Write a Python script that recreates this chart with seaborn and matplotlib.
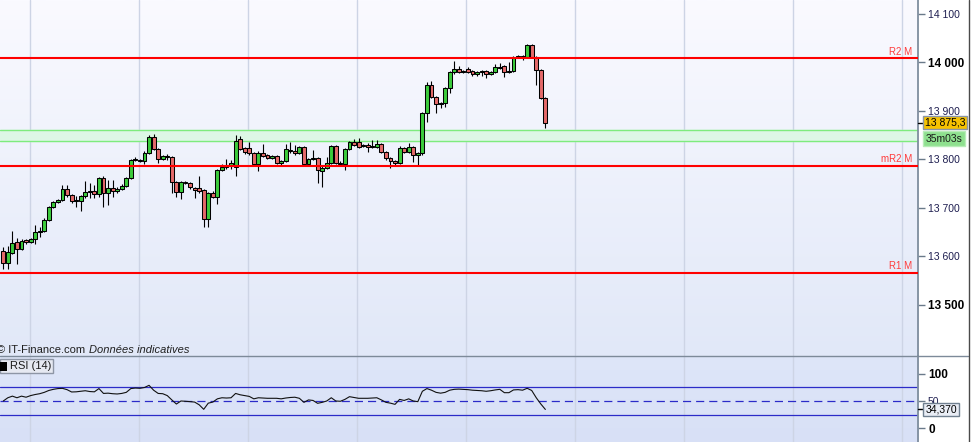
import matplotlib
matplotlib.use("Agg")
import matplotlib.pyplot as plt
import matplotlib.colors as mcolors
import matplotlib.transforms as mtransforms
from matplotlib.lines import Line2D
from matplotlib.patches import Rectangle
import numpy as np
import pandas as pd
import seaborn as sns

# ── données (bougies, RSI, niveaux) ────────────────────────────────────────
OPEN = [
    13610, 13586, 13606, 13629, 13614, 13633, 13629, 13635, 13649, 13652,
    13674, 13701, 13711, 13715, 13738, 13726, 13713, 13713, 13724, 13732,
    13734, 13728, 13761, 13730, 13740, 13734, 13738, 13744, 13761, 13798,
    13798, 13796, 13812, 13845, 13821, 13800, 13806, 13804, 13753, 13732,
    13753, 13751, 13740, 13740, 13736, 13676, 13730, 13722, 13777, 13784,
    13786, 13784, 13841, 13823, 13823, 13812, 13790, 13812, 13808, 13802,
    13806, 13792, 13796, 13819, 13816, 13812, 13825, 13790, 13800, 13802,
    13775, 13781, 13792, 13827, 13792, 13790, 13821, 13835, 13835, 13827,
    13829, 13825, 13825, 13831, 13814, 13802, 13796, 13792, 13823, 13814,
    13825, 13808, 13812, 13895, 13953, 13928, 13913, 13915, 13946, 13979,
    13986, 13979, 13986, 13981, 13975, 13979, 13981, 13975, 13979, 13990,
    13992, 13979, 13981, 14010, 14012, 14010, 14035, 14010, 13984, 13926,
]
HIGH = [
    13619, 13620, 13652, 13637, 13635, 13635, 13637, 13664, 13660, 13678,
    13703, 13713, 13718, 13746, 13746, 13728, 13724, 13726, 13755, 13750,
    13746, 13763, 13765, 13757, 13757, 13742, 13748, 13763, 13800, 13804,
    13800, 13816, 13850, 13852, 13823, 13808, 13810, 13806, 13755, 13755,
    13755, 13753, 13742, 13765, 13738, 13732, 13734, 13779, 13790, 13800,
    13798, 13850, 13848, 13825, 13835, 13814, 13816, 13831, 13810, 13808,
    13808, 13798, 13831, 13835, 13829, 13827, 13827, 13802, 13819, 13804,
    13786, 13804, 13829, 13829, 13796, 13823, 13837, 13841, 13843, 13831,
    13833, 13839, 13839, 13833, 13816, 13804, 13798, 13827, 13825, 13833,
    13827, 13814, 13898, 13959, 13961, 13930, 13917, 13948, 13981, 14002,
    13992, 13984, 13990, 13984, 13981, 13984, 13984, 13981, 13996, 13998,
    13994, 14000, 14012, 14014, 14014, 14037, 14037, 14012, 13986, 13928,
]
LOW = [
    13573, 13573, 13604, 13583, 13612, 13625, 13627, 13625, 13639, 13649,
    13672, 13699, 13709, 13713, 13722, 13709, 13701, 13693, 13720, 13720,
    13720, 13722, 13701, 13705, 13722, 13730, 13736, 13742, 13759, 13796,
    13794, 13790, 13810, 13819, 13792, 13798, 13798, 13730, 13722, 13718,
    13748, 13738, 13720, 13730, 13660, 13660, 13720, 13707, 13775, 13780,
    13779, 13765, 13819, 13810, 13808, 13788, 13775, 13804, 13800, 13800,
    13790, 13788, 13794, 13812, 13808, 13810, 13786, 13788, 13798, 13750,
    13742, 13779, 13790, 13790, 13788, 13777, 13819, 13827, 13823, 13825,
    13814, 13823, 13823, 13812, 13798, 13781, 13788, 13790, 13812, 13812,
    13794, 13788, 13808, 13876, 13926, 13895, 13905, 13907, 13936, 13975,
    13977, 13977, 13977, 13971, 13971, 13971, 13967, 13973, 13977, 13986,
    13969, 13977, 13979, 14008, 14004, 14008, 14008, 13953, 13924, 13864,
]
CLOSE = [
    13586, 13608, 13627, 13614, 13631, 13629, 13635, 13649, 13652, 13674,
    13701, 13711, 13715, 13738, 13726, 13713, 13715, 13724, 13732, 13734,
    13728, 13761, 13730, 13740, 13734, 13738, 13744, 13761, 13798, 13800,
    13796, 13812, 13845, 13821, 13800, 13806, 13804, 13753, 13732, 13753,
    13751, 13742, 13736, 13734, 13676, 13730, 13722, 13777, 13784, 13788,
    13792, 13837, 13821, 13814, 13812, 13790, 13812, 13806, 13802, 13806,
    13792, 13796, 13821, 13816, 13812, 13825, 13790, 13800, 13802, 13777,
    13781, 13792, 13827, 13792, 13790, 13821, 13835, 13829, 13825, 13829,
    13825, 13827, 13831, 13814, 13802, 13796, 13792, 13823, 13814, 13825,
    13808, 13812, 13895, 13953, 13928, 13913, 13915, 13946, 13979, 13986,
    13979, 13981, 13979, 13975, 13979, 13981, 13975, 13979, 13990, 13988,
    13979, 13981, 14010, 14012, 14010, 14035, 14010, 13984, 13926, 13875.3,
]
RSI = [
    50, 56, 59, 56, 59, 57, 60, 62, 63.5, 66,
    69.5, 71.6, 73, 73.4, 71, 66.7, 67, 68, 69, 67.5,
    67, 73, 64, 64.5, 63.5, 63, 64, 66, 73, 74,
    73.5, 75, 79, 70, 64, 63.5, 60, 52, 44.4, 50,
    49.5, 48.8, 48, 43, 34.6, 46, 48, 54, 56, 55.5,
    56, 64, 61.5, 60, 58.5, 54, 56, 55.5, 55, 55,
    55, 54, 55.5, 56.5, 57, 55, 47.5, 52, 51, 45.7,
    47.5, 50, 56, 50, 49.5, 53, 58, 56.5, 55, 55,
    55, 55.5, 56, 52, 47.5, 46, 43.8, 53, 51, 54,
    50, 48.8, 68, 73, 70, 66, 64.5, 66, 70, 71.6,
    72, 71.5, 71, 70, 69.5, 69, 68, 69, 70.5, 71.6,
    65.4, 65.4, 70.5, 71, 70, 73.5, 69.5, 56, 44.5, 34.37,
]

PIVOT_NAMES = ["R2 M", "mR2 M", "R1 M"]
PIVOT_LEVELS = [14008, 13786, 13566]
BAND = [13837, 13860]
PRICE_TICKS = [13500, 13600, 13700, 13800, 13900, 14000, 14100]
PRICE_LABELS = ["13 500", "13 600", "13 700", "13 800", "13 900", "14 000", "14 100"]
PRICE_BOLD = [True, False, False, False, False, True, False]
RSI_TICKS = [0, 50, 100]
RSI_BOLD = [True, False, True]
RSI_LEVELS = [25, 50, 75]
TIMER = "35m03s"

# ── mise en page (pixels de l'image 972 x 442) ─────────────────────────────
W, H = 972, 442
AXIS_X = 918
X_LIM = (-0.72, 200.8)
GRID_X = [5.9, 29.8, 53.7, 77.7, 101.6, 125.5, 149.5, 173.4, 197.3]
GREEN = "#3CCB3C"
RED = "#E46A6A"

sns.set_style("white")
plt.rcParams["font.family"] = ["Liberation Sans", "DejaVu Sans"]


def fx(px):
    return px / W


def fy(py):
    return 1 - py / H


def gradient(ax, top, bottom):
    c0 = np.array(mcolors.to_rgb(top))
    c1 = np.array(mcolors.to_rgb(bottom))
    t = np.linspace(0, 1, 256)[:, None]
    img = (c0 * (1 - t) + c1 * t)[:, None, :]
    ax.imshow(img, extent=(0, 1, 0, 1), transform=ax.transAxes,
              aspect="auto", zorder=0, interpolation="bilinear")


df = pd.DataFrame({"open": OPEN, "high": HIGH, "low": LOW,
                   "close": CLOSE, "rsi": RSI})
df["t"] = np.arange(len(df))
up = df["close"] >= df["open"]

fig = plt.figure(figsize=(W / 100, H / 100), dpi=100, facecolor="white")
ax = fig.add_axes([0, fy(356), fx(AXIS_X), 356 / H])
ax_r = fig.add_axes([0, 0, fx(AXIS_X), 86 / H])

gradient(ax, "#FAFAFF", "#E1E8F8")
gradient(ax_r, "#DEE6F9", "#D8E0F6")

for a in (ax, ax_r):
    for s in ("top", "left", "bottom"):
        a.spines[s].set_visible(False)
    a.spines["right"].set_color("#7F8E9E")
    a.spines["right"].set_linewidth(1.3)
    a.set_xticks(GRID_X)
    a.tick_params(axis="x", length=0, labelbottom=False)
    a.grid(False)
    a.grid(True, axis="x", color="#CDD4E5", lw=1)
    a.yaxis.tick_right()
    a.tick_params(axis="y", direction="out", length=5, width=1,
                  color="#6A7A8A", pad=2.2, labelcolor="#1E1E50")

# ── panneau des prix ───────────────────────────────────────────────────────
ax.axhspan(BAND[0], BAND[1], color="#DDF7E6", zorder=1)
for b in BAND:
    ax.axhline(b, color="#7EEB7E", lw=1, zorder=2)

ax.vlines(df["t"], df["low"], df["high"], color="black", lw=0.8, zorder=3)
ax.bar(df["t"], (df["close"] - df["open"]).abs().clip(lower=0.8),
       bottom=df[["open", "close"]].min(axis=1), width=0.84,
       color=np.where(up, GREEN, RED), edgecolor="black", linewidth=0.75,
       zorder=4)

blend = mtransforms.blended_transform_factory(ax.transAxes, ax.transData)
for name, lvl in zip(PIVOT_NAMES, PIVOT_LEVELS):
    ax.axhline(lvl, color="#FF0000", lw=1.5, zorder=5)
    ax.text(0.9935, lvl + 3, name, transform=blend, ha="right", va="bottom",
            color="#FF3B3B", fontsize=7, zorder=6)

ax.set_xlim(*X_LIM)
ax.set_ylim(13394, 14128)
ax.set_yticks(PRICE_TICKS)
ax.set_yticklabels(PRICE_LABELS)
for lbl, b in zip(ax.get_yticklabels(), PRICE_BOLD):
    lbl.set_fontsize(8.5 if b else 7.5)
    if b:
        lbl.set_fontweight("bold")
        lbl.set_color("black")

# ── panneau RSI ────────────────────────────────────────────────────────────
for lvl in RSI_LEVELS:
    ax_r.axhline(lvl, color="#2B2BC8", lw=0.9, zorder=2,
                 ls=(0, (6.5, 4)) if lvl == 50 else "-")
sns.lineplot(data=df, x="t", y="rsi", color="#111111", lw=0.8, ax=ax_r,
             zorder=3)
ax_r.set_xlabel("")
ax_r.set_ylabel("")
ax_r.set_xlim(*X_LIM)
ax_r.set_ylim(-25.9, 133.3)
ax_r.set_yticks(RSI_TICKS)
ax_r.set_yticklabels([str(v) for v in RSI_TICKS])
for lbl, b in zip(ax_r.get_yticklabels(), RSI_BOLD):
    lbl.set_fontsize(8.5 if b else 7.5)
    if b:
        lbl.set_fontweight("bold")
        lbl.set_color("black")

# ── cadres et étiquettes de droite ─────────────────────────────────────────
fig.add_artist(Line2D([0, fx(968)], [fy(356)] * 2, color="#7D8A99", lw=1))
fig.add_artist(Line2D([fx(968.5)] * 2, [0, 1], color="#4A4A4A", lw=1))

last_y = H - ax.transData.transform((0, CLOSE[-1]))[1]
last_txt = f"{CLOSE[-1]:,.1f}".replace(",", " ").replace(".", ",")
fig.add_artist(Line2D([fx(918), fx(923)], [fy(last_y)] * 2, color="black", lw=1))
fig.add_artist(Rectangle((fx(923), fy(last_y + 6.5)), 44 / W, 13 / H,
                         transform=fig.transFigure, facecolor="#F6C200",
                         edgecolor="#8A96A8", lw=1, zorder=10))
fig.text(fx(945), fy(last_y), last_txt, ha="center", va="center",
         fontsize=7.5, color="black", zorder=11)
fig.add_artist(Rectangle((fx(923), fy(last_y + 23.5)), 42 / W, 15 / H,
                         transform=fig.transFigure, facecolor="#8EE08E",
                         edgecolor="#B8ECB8", lw=1, zorder=10))
fig.text(fx(944), fy(last_y + 16), TIMER, ha="center", va="center",
         fontsize=7.5, color="#1A1A1A", zorder=11)

rsi_y = H - ax_r.transData.transform((0, RSI[-1]))[1]
rsi_txt = f"{RSI[-1]:.3f}".replace(".", ",")
fig.add_artist(Line2D([fx(918), fx(923)], [fy(rsi_y)] * 2, color="black", lw=1))
fig.add_artist(Rectangle((fx(923), fy(rsi_y + 6.5)), 36 / W, 13 / H,
                         transform=fig.transFigure, facecolor="#E9EDF5",
                         edgecolor="#708090", lw=1, zorder=10))
fig.text(fx(941), fy(rsi_y), rsi_txt, ha="center", va="center",
         fontsize=7.5, color="black", zorder=11)

# ── mentions en bas à gauche ───────────────────────────────────────────────
fig.text(fx(-3), fy(350), "© IT-Finance.com", ha="left", va="center",
         fontsize=8, color="#202020")
fig.text(fx(89), fy(350), "Données indicatives", ha="left", va="center",
         fontsize=8, style="italic", color="#202020")
fig.add_artist(Rectangle((0, fy(373)), 53 / W, 14 / H, transform=fig.transFigure,
                         facecolor="#E6E9F2", edgecolor="#8E96A6", lw=1, zorder=10))
fig.add_artist(Rectangle((0, fy(370.5)), 7 / W, 8.5 / H, transform=fig.transFigure,
                         facecolor="black", edgecolor="none", zorder=11))
fig.text(fx(10.5), fy(366), "RSI (14)", ha="left", va="center",
         fontsize=8, color="#1A1A1A", zorder=11)

fig.savefig("out.png", dpi=100)
plt.close(fig)
